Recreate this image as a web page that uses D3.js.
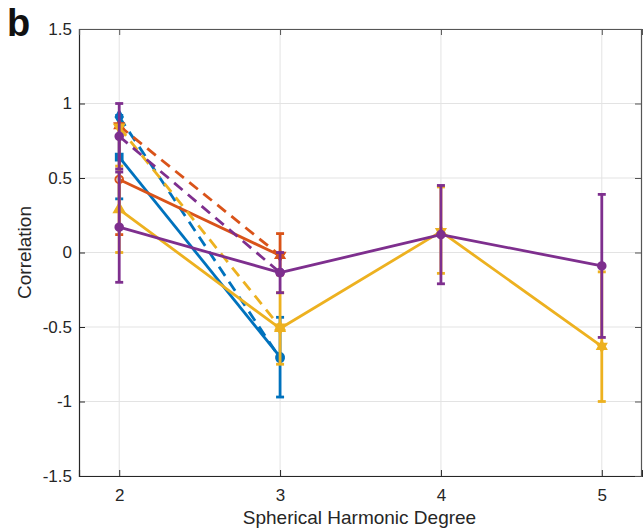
<!DOCTYPE html>
<html><head><meta charset="utf-8">
<script src="https://cdn.jsdelivr.net/npm/d3@7/dist/d3.min.js"></script>
<style>body{margin:0;background:#fff}svg{display:block}</style>
</head><body>
<svg id="chart" width="643" height="530"></svg>
<script>
const degrees = [2, 3, 4, 5];
const xTicks = [2, 3, 4, 5];
const yTicks = [-1.5, -1, -0.5, 0, 0.5, 1, 1.5];
const yTickLabels = ["-1.5", "-1", "-0.5", "0", "0.5", "1", "1.5"];

// series values (x = degrees[i])
const blueSolid = [0.64, -0.70];
const blueDashed = [0.91, -0.71];
const orangeSolid = [0.49, -0.02];
const orangeDashed = [0.85, -0.02];
const yellowSolid = [0.29, -0.51, 0.14, -0.63];
const yellowDashed = [0.84, -0.50];
const purpleSolid = [0.17, -0.135, 0.12, -0.09];
const purpleDashed = [0.78, -0.135];

// error bars: lower / upper
const blueLow = [0.36, -0.97], blueHigh = [0.92, -0.435];
const orangeLow = [0.12, -0.15], orangeHigh = [0.86, 0.127];
const yellowLow = [0.0, -0.75, -0.14, -1.0], yellowHigh = [0.58, -0.27, 0.44, -0.13];
const purpleLow = [-0.2, -0.27, -0.21, -0.57], purpleHigh = [0.54, 0.0, 0.45, 0.39];
const purpleDashLow = [0.56], purpleDashHigh = [1.0];

const C = {blue: "#0072BD", orange: "#D95319", yellow: "#EDB120", purple: "#7E2F8E"};

const hexagram = {
  draw(ctx, size) {
    const r = Math.sqrt(size) * 0.75;
    for (let k = 0; k < 2; k++) {
      for (let i = 0; i < 3; i++) {
        const a = (k * Math.PI / 3) + i * 2 * Math.PI / 3 - Math.PI / 2;
        const px = r * Math.cos(a), py = r * Math.sin(a);
        if (i === 0) ctx.moveTo(px, py); else ctx.lineTo(px, py);
      }
      ctx.closePath();
    }
  }
};
const triDown = {
  draw(ctx, size) {
    const r = Math.sqrt(size) * 0.7;
    ctx.moveTo(-r, -r * 0.6); ctx.lineTo(r, -r * 0.6); ctx.lineTo(0, r); ctx.closePath();
  }
};

const series = [
  {vals: blueSolid, color: C.blue, dash: null, markers: [d3.symbolSquare, d3.symbolCircle], fill: true, low: blueLow, high: blueHigh},
  {vals: blueDashed, color: C.blue, dash: "11,7", markers: [d3.symbolDiamond, d3.symbolCircle], fill: true},
  {vals: orangeSolid, color: C.orange, dash: null, markers: [d3.symbolCircle, hexagram], fill: false, low: orangeLow, high: orangeHigh},
  {vals: orangeDashed, color: C.orange, dash: "11,7", markers: [hexagram, triDown], fill: true},
  {vals: yellowSolid, color: C.yellow, dash: null, markers: [d3.symbolTriangle, hexagram, hexagram, hexagram], fill: true, low: yellowLow, high: yellowHigh},
  {vals: yellowDashed, color: C.yellow, dash: "11,7", markers: [triDown, hexagram], fill: true},
  {vals: purpleDashed, color: C.purple, dash: "11,7", markers: [d3.symbolCircle, d3.symbolCircle], fill: true, low: purpleDashLow, high: purpleDashHigh},
  {vals: purpleSolid, color: C.purple, dash: null, markers: [d3.symbolCircle, d3.symbolCircle, d3.symbolCircle, d3.symbolCircle], fill: true, low: purpleLow, high: purpleHigh}
];

const svg = d3.select("#chart");
const mLeft = 79, mRight = 642, mTop = 29, mBottom = 476;
const x = d3.scaleLinear().domain([1.75, 5.25]).range([mLeft, mRight]);
const y = d3.scaleLinear().domain([-1.5, 1.5]).range([mBottom, mTop]);
const font = "'Liberation Sans', Arial, Helvetica, sans-serif";
const axisColor = "#262626";

// grid
const g = svg.append("g");
g.selectAll(".gx").data(xTicks).enter().append("line")
  .attr("x1", d => x(d)).attr("x2", d => x(d)).attr("y1", mTop).attr("y2", mBottom)
  .attr("stroke", "#e3e3e3").attr("stroke-width", 1);
g.selectAll(".gy").data(yTicks).enter().append("line")
  .attr("x1", mLeft).attr("x2", mRight).attr("y1", d => y(d)).attr("y2", d => y(d))
  .attr("stroke", "#e3e3e3").attr("stroke-width", 1);

// axes
const xAxis = d3.axisBottom(x).tickValues(xTicks).tickSize(-6).tickPadding(13).tickFormat(d3.format("d"));
const yAxis = d3.axisLeft(y).tickValues(yTicks).tickSize(-6).tickPadding(7).tickFormat((d, i) => yTickLabels[i]);
const xa = svg.append("g").attr("transform", `translate(0,${mBottom})`).call(xAxis);
const ya = svg.append("g").attr("transform", `translate(${mLeft},0)`).call(yAxis);
const xt = svg.append("g").attr("transform", `translate(0,${mTop})`).call(d3.axisTop(x).tickValues(xTicks).tickSize(-6).tickFormat(""));
const yr = svg.append("g").attr("transform", `translate(${mRight - 1},0)`).call(d3.axisRight(y).tickValues(yTicks).tickSize(-6).tickFormat(""));
[xa, ya, xt, yr].forEach(a => {
  a.selectAll("path").attr("stroke", axisColor).attr("stroke-width", 1.2);
  a.selectAll("line").attr("stroke", axisColor);
  a.selectAll("text").attr("fill", axisColor).style("font-family", font).style("font-size", "17px");
});
xt.selectAll("path, line").attr("stroke", "#555");
yr.selectAll("path, line").attr("stroke", "#555");

// labels
svg.append("text").attr("x", (mLeft + mRight) / 2 - 1).attr("y", 524).attr("text-anchor", "middle")
  .style("font-family", font).style("font-size", "19px").attr("fill", axisColor).text("Spherical Harmonic Degree");
svg.append("text").attr("transform", `translate(31,${(mTop + mBottom) / 2}) rotate(-90)`).attr("text-anchor", "middle")
  .style("font-family", font).style("font-size", "19px").attr("fill", axisColor).text("Correlation");
svg.append("text").attr("x", 7).attr("y", 36).style("font-family", font).style("font-size", "38px")
  .style("font-weight", "bold").attr("fill", "#111").text("b");

// series
const plot = svg.append("g");
const line = d3.line().x((d, i) => x(degrees[i])).y(d => y(d));
series.forEach(s => {
  const sg = plot.append("g");
  sg.append("path").datum(s.vals).attr("d", line).attr("fill", "none")
    .attr("stroke", s.color).attr("stroke-width", 2.8)
    .attr("stroke-dasharray", s.dash).attr("stroke-linejoin", "round");
  if (s.low) {
    s.low.forEach((lo, i) => {
      const hi = s.high[i], cx = x(degrees[i]);
      sg.append("line").attr("x1", cx).attr("x2", cx).attr("y1", y(lo)).attr("y2", y(hi))
        .attr("stroke", s.color).attr("stroke-width", 2.8);
      [lo, hi].forEach(v => sg.append("line").attr("x1", cx - 4).attr("x2", cx + 4)
        .attr("y1", y(v)).attr("y2", y(v)).attr("stroke", s.color).attr("stroke-width", 2.8));
    });
  }
  s.vals.forEach((v, i) => {
    sg.append("path").attr("d", d3.symbol().type(s.markers[i]).size(45)())
      .attr("transform", `translate(${x(degrees[i])},${y(v)})`)
      .attr("fill", s.fill ? s.color : "none").attr("stroke", s.color).attr("stroke-width", 2);
  });
});
</script>
</body></html>
